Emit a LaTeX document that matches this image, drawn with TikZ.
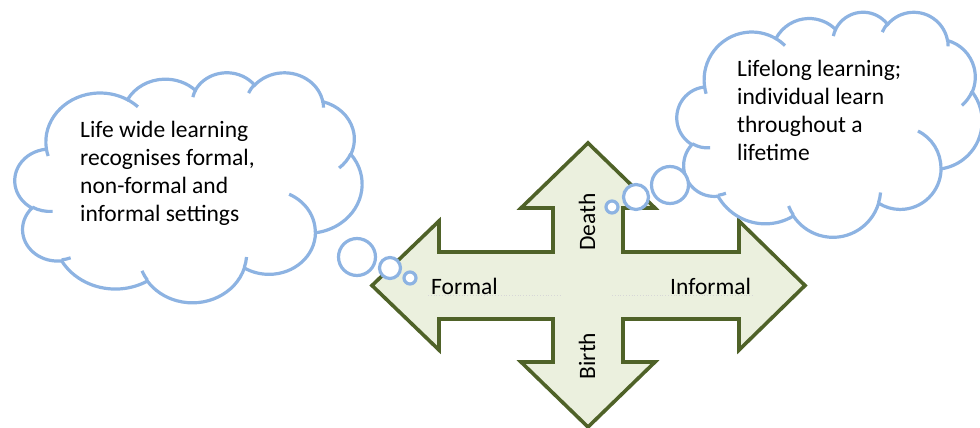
\documentclass[tikz,border=0pt]{standalone}
\usepackage{fontspec}
\setmainfont{Carlito}

\definecolor{cloudline}{RGB}{141,179,226}
\definecolor{arrowfill}{RGB}{235,240,222}
\definecolor{arrowline}{RGB}{79,98,40}
\definecolor{guide}{RGB}{215,215,215}

% angle on an ellipse given as a "visual" (ray) angle -> parametric angle
\tikzset{declare function={visang(\a,\w,\h)=atan2((\w)*sin(\a),(\h)*cos(\a));}}

% one puff of the cloud: radii, visual start angle, sweep (all in a 432 x 432 box)
\newcommand\cloudarc[4]{arc[x radius=#1, y radius=#2,
  start angle={visang(#3,#1,#2)},
  delta angle={(#4)+Mod(visang((#3)+(#4),#1,#2)-visang(#3,#1,#2)-(#4)+180,360)-180}]}

% full cloud outline (filled) and the short inner creases
\newcommand\cloudoutline{%
  \filldraw[cloudshape] (39.00,143.70)
    \cloudarc{67.53}{91.90}{-190.48748}{123.78053}
    \cloudarc{53.33}{72.67}{-144.10238}{89.94523}
    \cloudarc{43.65}{59.45}{-145.80792}{99.72302}
    \cloudarc{48.57}{65.95}{-130.98607}{117.24173}
    \cloudarc{53.33}{72.73}{-78.70888}{109.02692}
    \cloudarc{67.75}{92.20}{-46.26725}{130.26900}
    \cloudarc{57.85}{78.67}{0.62502}{114.03333}
    \cloudarc{67.52}{92.15}{22.45160}{115.17255}
    \cloudarc{77.20}{105.43}{66.24263}{75.71102}
    \cloudarc{43.60}{59.18}{-274.94208}{146.73557}
    \cloudarc{43.45}{59.45}{-246.82850}{152.51885}
    -- cycle;
  \draw[cloudcrease] (46.93,261.77) \cloudarc{43.45}{59.45}{86.74200}{26.42950};
  \draw[cloudcrease] (69.28,348.99) \cloudarc{43.60}{59.18}{73.61047}{11.44747};
  \draw[cloudcrease] (164.78,390.90) \cloudarc{67.52}{92.15}{137.62415}{14.08110};
  \draw[cloudcrease] (288.27,347.51) \cloudarc{67.52}{92.15}{6.45327}{15.99835};
  \draw[cloudcrease] (341.29,229.54) \cloudarc{57.85}{78.67}{-70.29235}{70.91737};
  \draw[cloudcrease] (417.98,153.54) \cloudarc{53.33}{72.73}{30.31803}{27.75150};
  \draw[cloudcrease] (383.24,54.26) \cloudarc{48.57}{65.95}{-13.74433}{14.85890};
  \draw[cloudcrease] (290.78,39.52) \cloudarc{48.57}{65.95}{-149.18145}{18.19537};
  \draw[cloudcrease] (221.41,47.20) \cloudarc{43.65}{59.45}{-163.49427}{17.68635};
  \draw[cloudcrease] (140.00,51.92) \cloudarc{67.53}{91.90}{-66.70695}{12.31935};
  \draw[cloudcrease] (41.27,157.89) \cloudarc{67.53}{91.90}{157.65435}{11.85817};
}

\tikzset{
  cloudshape/.style={draw=cloudline, fill=white, line width=3.2pt},
  cloudcrease/.style={draw=cloudline, line width=3.2pt},
  bubble/.style={draw=cloudline, fill=white, line width=3.2pt},
  crossarrow/.style={draw=arrowline, fill=arrowfill, line width=3.6pt, line join=miter},
  bodytext/.style={inner sep=0pt, align=left, font=\fontsize{23.5}{28}\selectfont},
  axislabel/.style={inner sep=0pt, font=\fontsize{23.5}{28}\selectfont},
}

\begin{document}
\begin{tikzpicture}[x=1pt, y=-1pt]
\useasboundingbox (0,0) rectangle (980,428);
\clip (0,0) rectangle (980,428);

% four-headed arrow
\filldraw[crossarrow]
  (588,143) -- (655,208) -- (623,208) -- (623,252) -- (739,252) -- (739,221)
  -- (805,285.5) -- (739,350) -- (739,319) -- (623,319) -- (623,362)
  -- (655,362) -- (588,427) -- (521,362) -- (553,362) -- (553,319)
  -- (439,319) -- (439,350) -- (372,285.5) -- (439,221) -- (439,252)
  -- (553,252) -- (553,208) -- (521,208) -- cycle;

% faint guides under the horizontal labels
\draw[guide, dotted, line width=0.8pt] (428,295) -- (560,295);
\draw[guide, dotted, line width=0.8pt] (612,295) -- (753,295);

% left thought cloud
\begin{scope}[shift={(15,72)}, xscale=0.80324, yscale=0.53241]
  \cloudoutline
\end{scope}
\filldraw[bubble] (357,257) circle[radius=18.5];
\filldraw[bubble] (390,268) circle[radius=10.5];
\filldraw[bubble] (410,278) circle[radius=6];

% right thought cloud
\begin{scope}[shift={(677,11.5)}, xscale=0.70602, yscale=0.52083]
  \cloudoutline
\end{scope}
\filldraw[bubble] (670,185) circle[radius=18.5];
\filldraw[bubble] (636,197) circle[radius=12.5];
\filldraw[bubble] (612,207) circle[radius=6];

% texts (anchored on the baseline of the last line)
\node[bodytext, anchor=base west] (lifewide) at (80,221)
  {Life wide learning\\recognises formal,\\non-formal and\\informal settings};
\node[bodytext, anchor=base west] (lifelong) at (737,160)
  {Lifelong learning;\\individual learn\\throughout a\\lifetime};

\node[axislabel, anchor=base west] (formal) at (431,294) {Formal};
\node[axislabel, anchor=base west] (informal) at (670,294) {Informal};
\node[axislabel, rotate=90] (death) at (587,222) {Death};
\node[axislabel, rotate=90] (birth) at (587,356) {Birth};
\end{tikzpicture}
\end{document}
